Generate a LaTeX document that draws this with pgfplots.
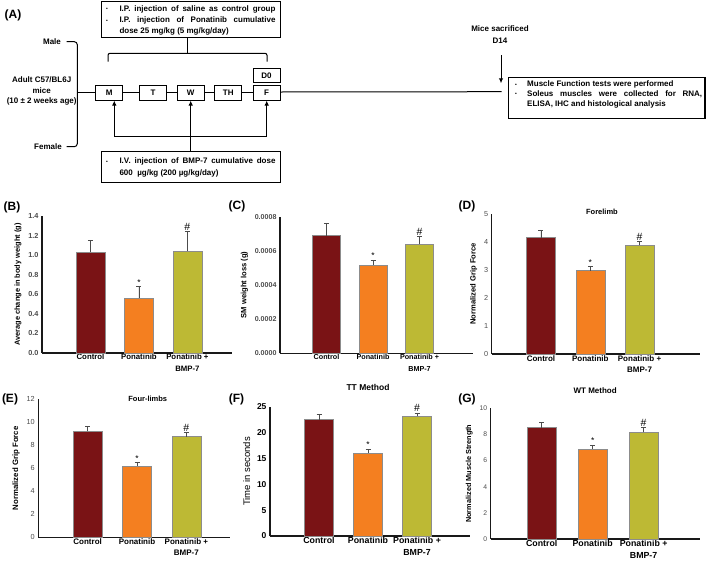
\documentclass[border=0pt]{standalone}
\usepackage{pgfplots}
\pgfplotsset{compat=1.18}
\usepackage{fontspec}
\setmainfont{Liberation Sans}
\usetikzlibrary{arrows.meta}

\definecolor{cctl}{HTML}{7A1315}
\definecolor{cpon}{HTML}{F47F20}
\definecolor{cbmp}{HTML}{BDB934}

\newcommand{\fs}[2]{\fontsize{#1}{#2}\selectfont}

\pgfplotsset{
  panel/.style={
    scale only axis, ybar, bar width=29pt,
    anchor=south west,
    axis x line*=bottom, axis y line*=left,
    axis line style={line width=1.25pt, black!90},
    xmin=0, ymin=0, clip=false,
    xtick={1,2,3},
    xticklabels={Control,Ponatinib,{Ponatinib +\\BMP-7}},
    x tick label style={align=center, inner sep=1pt},
    major tick length=0pt,
    /pgf/number format/assume math mode=true,
    y tick label style={black!70},
    error bars/y dir=plus, error bars/y explicit,
    error bars/error bar style={black!70, line width=0.8pt},
    error bars/error mark options={rotate=90, mark size=2.5pt, black!70, line width=0.8pt},
  },
  bctl/.style={fill=cctl, draw=black!45, bar shift=0pt},
  bpon/.style={fill=cpon, draw=black!45, bar shift=0pt},
  bbmp/.style={fill=cbmp, draw=black!45, bar shift=0pt},
}
\tikzset{
  star/.style={anchor=south, inner sep=1pt, font=\fs{8.5}{9}},
  hash/.style={anchor=south, inner sep=1pt, font=\fs{10.5}{11}},
  plab/.style={font=\bfseries\fs{12}{12}},
}

\begin{document}
\begin{tikzpicture}
\path[use as bounding box] (0,0) rectangle (709pt,-560pt);

% ---- (A) schematic
\begin{scope}[x=1pt, y=-1pt, line width=1pt, font=\bfseries\fs{8}{9.5}]
  \node[plab] at (13,15) {(A)};
  % top box
  \draw (101.7,1.7) rectangle (280,37.7);
  \node[anchor=base west, inner sep=0] at (105.5,10.6) {\fs{5}{5}•};
  \node[anchor=base west, inner sep=0] at (105.5,22.3) {\fs{5}{5}•};
  \node[anchor=base west, inner sep=0] at (119,11.2) {\makebox[156pt][s]{I.P. injection of saline as control group}};
  \node[anchor=base west, inner sep=0] at (119,22.9) {\makebox[156pt][s]{I.P. injection of Ponatinib cumulative}};
  \node[anchor=base west, inner sep=0] at (119,33.6) {dose 25 mg/kg (5 mg/kg/day)};
  % bracket under top box
  \draw[rounded corners=2pt] (108,61.7) -- (108,53.3) -- (267,53.3) -- (267,61.7);
  \draw (187.7,53.3) -- (187.7,37.7);
  % left brace
  \node at (52,41.7) {Male};
  \node at (48,146.7) {Female};
  \node[align=center, font=\bfseries\fs{8}{10.8}] at (41.7,91) {Adult C57/BL6J\\mice\\(10 ± 2 weeks age)};
  \draw[rounded corners=3pt] (66.7,41.7) -- (77.3,41.7) -- (77.3,146.7) -- (66.7,146.7);
  \draw (77.3,92.3) -- (95.7,92.3);
  % day boxes
  \draw (95.7,85) rectangle (122.7,100);  \node at (109.2,92.5) {M};
  \draw (139.3,85) rectangle (166.7,100); \node at (153,92.5) {T};
  \draw (177.3,85) rectangle (204,100);   \node at (190.7,92.5) {W};
  \draw (214.7,85) rectangle (241.7,100); \node at (228.2,92.5) {TH};
  \draw (253,85) rectangle (280,100);     \node at (266.5,92.5) {F};
  \draw (253,68.3) rectangle (280,82.7);  \node at (266.5,75.5) {D0};
  \draw (122.7,92.3) -- (139.3,92.3);
  \draw (166.7,92.3) -- (177.3,92.3);
  \draw (204,92.3) -- (214.7,92.3);
  \draw (241.7,92.3) -- (253,92.3);
  \draw (280,92) -- (501.7,91.7);
  % bottom arrows
  \draw (114.3,136.7) -- (266.7,136.7);
  \draw[-{Latex[length=5pt,width=4.5pt]}] (114.3,136.7) -- (114.3,100.5);
  \draw[-{Latex[length=5pt,width=4.5pt]}] (266.7,136.7) -- (266.7,100.5);
  \draw[-{Latex[length=5pt,width=4.5pt]}] (190.7,151.7) -- (190.7,100.5);
  % bottom box
  \draw (101.7,151.7) rectangle (280,182.7);
  \node[anchor=base west, inner sep=0] at (105.5,163.3) {\fs{5}{5}•};
  \node[anchor=base west, inner sep=0] at (119,163.9) {\makebox[156pt][s]{I.V. injection of BMP-7 cumulative dose}};
  \node[anchor=base west, inner sep=0] at (119,175.2) {600 \ µg/kg (200 µg/kg/day)};
  % sacrifice
  \node at (500,29) {Mice sacrificed};
  \node at (500,40.5) {D14};
  \draw[-{Latex[length=5pt,width=4.5pt]}] (501,55) -- (501,83.3);
  \draw[line width=1.3pt] (508.3,77.3) rectangle (705,118.3);
  \node[anchor=base west, inner sep=0] at (514.5,86.3) {\fs{5}{5}•};
  \node[anchor=base west, inner sep=0] at (514.5,95.6) {\fs{5}{5}•};
  \node[anchor=base west, inner sep=0] at (526.7,86.9) {Muscle Function tests were performed};
  \node[anchor=base west, inner sep=0] at (526.7,96.2) {\makebox[175pt][s]{Soleus muscles were collected for RNA,}};
  \node[anchor=base west, inner sep=0] at (526.7,106.2) {ELISA, IHC and histological analysis};
\end{scope}

% ---- panel labels
\node[plab] at (12pt,-207pt) {(B)};
\node[plab] at (237pt,-206pt) {(C)};
\node[plab] at (467pt,-206pt) {(D)};
\node[plab] at (10pt,-399.5pt) {(E)};
\node[plab] at (236.5pt,-399pt) {(F)};
\node[plab] at (467pt,-399pt) {(G)};

% ---- (B)
\begin{axis}[panel, at={(42pt,-353pt)}, width=190pt, height=137pt,
  xmax=3.92, ymax=1.4, ytick={0,0.2,0.4,0.6,0.8,1.0,1.2,1.4},
  y tick label style={font=\bfseries\fs{7.3}{8},
    /pgf/number format/fixed, /pgf/number format/fixed zerofill,
    /pgf/number format/precision=1},
  x tick label style={font=\bfseries\fs{7.8}{11.5}},
  ylabel={Average change in body weight (g)},
  ylabel style={font=\bfseries\fs{7.4}{8}}]
\addplot[bctl] coordinates {(1,1.03) +- (0,0.12)};
\addplot[bpon] coordinates {(2,0.56) +- (0,0.12)};
\addplot[bbmp] coordinates {(3,1.04) +- (0,0.20)};
\node[star] at (axis cs:2,0.68) {*};
\node[hash] at (axis cs:3,1.24) {\#};
\end{axis}

% ---- (C)
\begin{axis}[panel, at={(280pt,-353.3pt)}, width=193pt, height=136.6pt, bar width=28pt,
  xmax=4.15, ymax=0.0008, ytick={0,0.0002,0.0004,0.0006,0.0008},
  scaled y ticks=false,
  y tick label style={font=\bfseries\fs{7.1}{8},
    /pgf/number format/fixed, /pgf/number format/fixed zerofill,
    /pgf/number format/precision=4},
  x tick label style={font=\bfseries\fs{7.2}{11.5}},
  ylabel={SM weight loss (g)},
  ylabel style={font=\bfseries\fs{7.6}{8}}]
\addplot[bctl] coordinates {(1,0.000689) +- (0,0.000072)};
\addplot[bpon] coordinates {(2,0.000517) +- (0,0.000029)};
\addplot[bbmp] coordinates {(3,0.000638) +- (0,0.000045)};
\node[star] at (axis cs:2,0.000546) {*};
\node[hash] at (axis cs:3,0.000683) {\#};
\end{axis}

% ---- (D)
\begin{axis}[panel, at={(491.7pt,-354pt)}, width=208pt, height=140pt,
  xmax=4.22, ymax=5, ytick={0,1,2,3,4,5},
  y tick label style={font=\fs{7.3}{8}},
  x tick label style={font=\bfseries\fs{8}{11.5}},
  title={Forelimb},
  title style={at={(0.53,1)}, anchor=center, yshift=-4pt, font=\bfseries\fs{7.5}{8}},
  ylabel={Normalized Grip Force},
  ylabel style={font=\bfseries\fs{7.6}{8}}]
\addplot[bctl] coordinates {(1,4.16) +- (0,0.27)};
\addplot[bpon] coordinates {(2,2.98) +- (0,0.14)};
\addplot[bbmp] coordinates {(3,3.88) +- (0,0.13)};
\node[star] at (axis cs:2,3.12) {*};
\node[hash] at (axis cs:3,4.01) {\#};
\end{axis}

% ---- (E)
\begin{axis}[panel, at={(38.3pt,-537.3pt)}, width=192pt, height=138pt,
  xmax=3.89, ymax=12, ytick={0,2,4,6,8,10,12},
  y tick label style={font=\fs{7.3}{8}},
  x tick label style={font=\bfseries\fs{8}{11.5}},
  title={Four-limbs},
  title style={at={(0.57,1)}, anchor=center, yshift=-6pt, font=\bfseries\fs{7.5}{8}},
  ylabel={Normalized Grip Force},
  ylabel style={font=\bfseries\fs{7.8}{8}}]
\addplot[bctl] coordinates {(1,9.22) +- (0,0.44)};
\addplot[bpon] coordinates {(2,6.22) +- (0,0.28)};
\addplot[bbmp] coordinates {(3,8.76) +- (0,0.32)};
\node[star] at (axis cs:2,6.5) {*};
\node[hash] at (axis cs:3,9.08) {\#};
\end{axis}

% ---- (F)
\begin{axis}[panel, at={(270pt,-536pt)}, width=200pt, height=129pt,
  xmax=4.08, ymax=25, ytick={0,5,10,15,20,25},
  y tick label style={font=\bfseries\fs{8.5}{9}, black},
  x tick label style={font=\bfseries\fs{8.8}{11.5}},
  title={TT Method},
  title style={at={(0.49,1)}, anchor=center, yshift=14pt, font=\bfseries\fs{8.5}{9}},
  ylabel={Time in seconds},
  ylabel style={font=\fs{9.5}{10}}]
\addplot[bctl] coordinates {(1,22.55) +- (0,1.03)};
\addplot[bpon] coordinates {(2,16.09) +- (0,0.77)};
\addplot[bbmp] coordinates {(3,23.19) +- (0,0.65)};
\node[star] at (axis cs:2,16.86) {*};
\node[hash] at (axis cs:3,23.84) {\#};
\end{axis}

% ---- (G)
\begin{axis}[panel, at={(490.7pt,-539pt)}, width=209pt, height=130.7pt,
  xmax=4.1, ymax=10, ytick={0,2,4,6,8,10},
  y tick label style={font=\fs{6.8}{8}},
  x tick label style={font=\bfseries\fs{8.8}{11.5}},
  title={WT Method},
  title style={at={(0.5,1)}, anchor=center, yshift=12pt, font=\bfseries\fs{8}{9}},
  ylabel={Normalized Muscle Strength},
  ylabel style={font=\bfseries\fs{7.3}{8}}]
\addplot[bctl] coordinates {(1,8.52) +- (0,0.38)};
\addplot[bpon] coordinates {(2,6.89) +- (0,0.30)};
\addplot[bbmp] coordinates {(3,8.16) +- (0,0.39)};
\node[star] at (axis cs:2,7.19) {*};
\node[hash] at (axis cs:3,8.55) {\#};
\end{axis}
\end{tikzpicture}
\end{document}
